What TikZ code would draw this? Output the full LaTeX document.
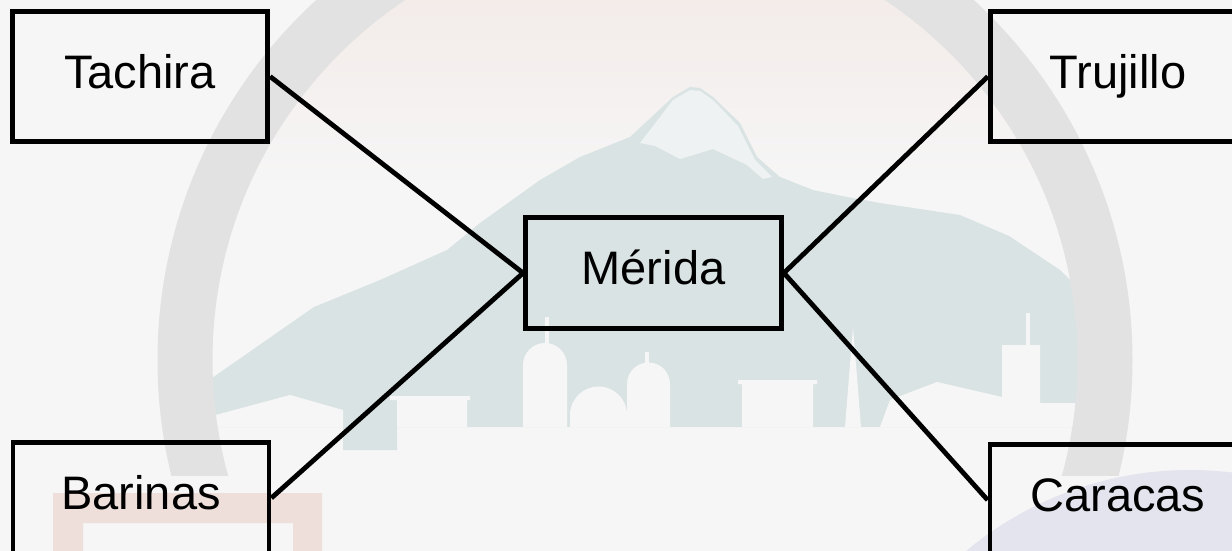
\documentclass[tikz,border=0pt]{standalone}
\usepackage{fontspec}
\setmainfont{Liberation Sans}
\usetikzlibrary{positioning}

\definecolor{paper}{HTML}{F6F6F6}
\definecolor{ringgray}{HTML}{E2E2E2}
\definecolor{hillteal}{HTML}{DAE3E3}
\definecolor{snowcap}{HTML}{EEF2F2}
\definecolor{framered}{HTML}{EFDFDA}
\definecolor{globeblue}{HTML}{E4E4EE}

\begin{document}
\begin{tikzpicture}[x=1pt,y=-1pt,line width=4.8pt]
		\tikzstyle{every region}=[draw=black,line width=4.8pt,text=black,font=\fontsize{47}{56}\selectfont,text height=34pt,text depth=10.4pt]
		\tikzstyle{region}=[rectangle,every region,minimum width=255.5pt,minimum height=130.5pt]
		\tikzstyle{hub}=[rectangle,every region,minimum width=256pt,minimum height=111pt]
		% faded logo behind the map
		\fill[paper] (0,0) rectangle (1232,551);
		\useasboundingbox (0,0) rectangle (1232,551);
		\begin{scope}
			\clip (645,360) circle[radius=433];
			\shade[top color=paper!55!framered,bottom color=paper] (200,0) rectangle (1100,190);
		\end{scope}
		% mountain
		\fill[hillteal] (212,378) -- (314,307) -- (380,280) -- (447,250) -- (480,223) -- (540,180)
			-- (580,157) -- (630,137) -- (673,97) -- (690,87) -- (700,88) -- (713,97) -- (740,123)
			-- (757,157) -- (780,177) -- (813,190) -- (847,197) -- (880,203) -- (960,215)
			-- (1009,236) -- (1060,270) -- (1095,305) -- (1095,427) -- (397,427) -- (397,450)
			-- (343,450) -- (343,427) -- (212,427) -- cycle;
		\fill[snowcap] (673,100) -- (690,90) -- (700,91) -- (713,100) -- (738,126) -- (755,160)
			-- (772,177) -- (763,179) -- (747,165) -- (713,149) -- (680,159) -- (655,146)
			-- (640,143) -- cycle;
		% skyline
		\fill[paper] (212,427) -- (212,416) -- (290,395) -- (343,410) -- (343,427) -- cycle;
		\fill[paper] (397,427) -- (397,400) -- (390,400) -- (390,396) -- (470,396) -- (470,400)
			-- (467,400) -- (467,427) -- cycle;
		\fill[paper] (523,427) -- (523,365) arc[start angle=180,end angle=360,radius=22] -- (567,427) -- cycle;
		\fill[paper] (545,345) rectangle (549,317);
		\fill[paper] (570,427) -- (570,415) arc[start angle=180,end angle=360,radius=28.5] -- (627,427) -- cycle;
		\fill[paper] (627,427) -- (627,384) arc[start angle=180,end angle=360,radius=21.5] -- (670,427) -- cycle;
		\fill[paper] (645,365) rectangle (649,352);
		\fill[paper] (742,427) -- (742,384) -- (738,384) -- (738,380) -- (817,380) -- (817,384)
			-- (813,384) -- (813,427) -- cycle;
		\fill[paper] (845,427) -- (853,327) -- (861,427) -- cycle;
		\fill[paper] (880,427) -- (890,400) -- (937,382) -- (1002,397) -- (1002,345) -- (1040,345)
			-- (1040,403) -- (1095,403) -- (1095,427) -- cycle;
		\fill[paper] (1026,345) rectangle (1030,313);
		\begin{scope}
			\clip (0,0) rectangle (1232,475);
			\draw[ringgray,line width=55pt] (645,360) circle[radius=460];
		\end{scope}
		\fill[framered,even odd rule] (53,493) rectangle (322,560) (83,523) rectangle (293,560);
		\fill[globeblue] (1190,820) circle[radius=350];
		% the map itself
		\node[hub]    (M) at (653.5,273) {Mérida};
		\node[region] (T) at (140,76.5)  {Tachira};
		\node[region] (J) at (1118,76.5) {Trujillo};
		\node[hub]    (B) at (141,498)   {Barinas};
		\node[hub]    (C) at (1118,500)  {Caracas};
		\path[draw=black]
		(T.east) edge (M.west)
		(B.east) edge (M.west)
		(J.west) edge (M.east)
		(C.west) edge (M.east);
	\end{tikzpicture}
\end{document}
